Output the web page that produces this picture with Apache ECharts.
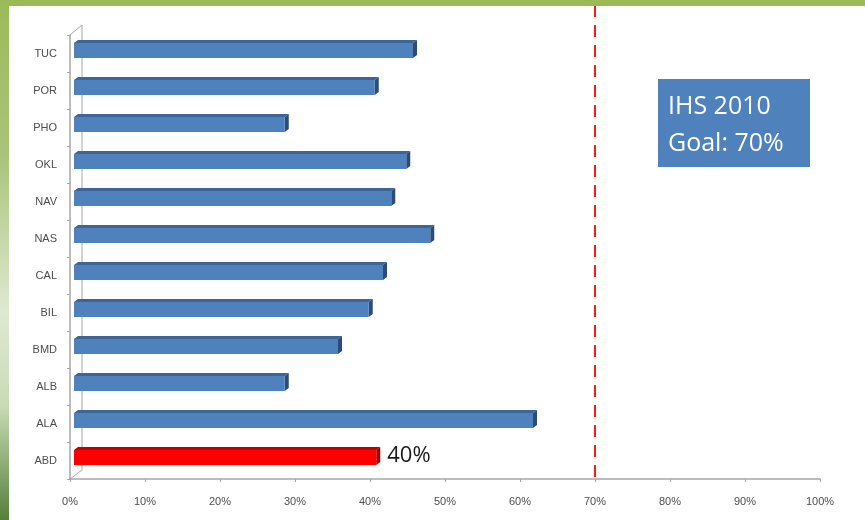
<!DOCTYPE html>
<html>
<head>
<meta charset="utf-8">
<script src="https://cdn.jsdelivr.net/npm/echarts@6/dist/echarts.min.js"></script>
<style>
  html, body { margin: 0; padding: 0; background: #fff; }
  #chart { width: 865px; height: 520px; }
</style>
</head>
<body>
<div id="chart"></div>
<script>
// categories listed bottom -> top (category axis grows upward)
const categories = ['ABD', 'ALA', 'ALB', 'BMD', 'BIL', 'CAL', 'NAS', 'NAV', 'OKL', 'PHO', 'POR', 'TUC']
const rates = [40.3, 61.2, 28.1, 35.2, 39.3, 41.2, 47.5, 42.3, 44.3, 28.1, 40.1, 45.2]
const highlight = 'ABD'
const goal = 70
const goalTitle = 'IHS 2010'

const chart = echarts.init(document.getElementById('chart'))

// fake 3d bar: front face + top + right side
function renderBar (params, api) {
  const v = api.value(0)
  const i = api.value(1)
  const s = api.coord([0, i])
  const e = api.coord([v, i])
  const dx = 4
  const dy = 3
  const h = 15
  const x0 = s[0] + 4
  const x1 = e[0] + 4
  const yt = s[1] - 3 - h / 2
  const yb = yt + h
  const hot = categories[i] === highlight
  const front = hot ? '#ff0000' : '#4f81bd'
  const top = hot ? '#c00000' : '#3d6598'
  const side = hot ? '#9a0000' : '#2c4c78'
  const children = [
    { type: 'polygon', shape: { points: [[x0, yt], [x1, yt], [x1 + dx, yt - dy], [x0 + dx, yt - dy]] }, style: { fill: top } },
    { type: 'polygon', shape: { points: [[x1, yt], [x1 + dx, yt - dy], [x1 + dx, yb - dy], [x1, yb]] }, style: { fill: side } },
    { type: 'rect', shape: { x: x0, y: yt, width: x1 - x0, height: h }, style: { fill: front } }
  ]
  if (hot) {
    children.push({
      type: 'text',
      style: {
        x: x1 + dx + 7,
        y: yt + h / 2 - 2,
        text: Math.round(v) + '%',
        fill: '#1a1a1a',
        font: '22px "Open Sans", sans-serif',
        verticalAlign: 'middle'
      }
    })
  }
  return { type: 'group', children: children }
}

// back wall of the 3d frame
function renderWall (params, api) {
  const r = params.coordSys
  const x = r.x
  const t = r.y
  const b = r.y + r.height
  return {
    type: 'polyline',
    shape: { points: [[x, t], [x + 12, t - 10], [x + 12, b - 9], [x, b]] },
    style: { stroke: '#a6a6a6', lineWidth: 1, fill: null }
  }
}

function renderGoal (params, api) {
  const r = params.coordSys
  const x = api.coord([api.value(0), 0])[0]
  return {
    type: 'line',
    shape: { x1: x, y1: 5, x2: x, y2: r.y + r.height },
    style: { stroke: '#ff1a1a', lineWidth: 2, lineDash: [12, 8] }
  }
}

const option = {
  animation: false,
  backgroundColor: '#ffffff',
  grid: { left: 70, right: 45, top: 35, bottom: 41 },
  xAxis: {
    type: 'value',
    min: 0,
    max: 100,
    interval: 10,
    axisLine: { show: true, lineStyle: { color: '#a6a6a6', width: 1.5 } },
    axisTick: { show: true, length: 3, lineStyle: { color: '#a6a6a6' } },
    splitLine: { show: false },
    axisLabel: {
      formatter: '{value}%',
      color: '#4d4d4d',
      fontFamily: 'Liberation Sans',
      fontSize: 11,
      margin: 17
    }
  },
  yAxis: {
    type: 'category',
    data: categories,
    axisLine: { show: true, lineStyle: { color: '#a6a6a6', width: 1.5 } },
    axisTick: { show: true, length: 3, inside: false, lineStyle: { color: '#a6a6a6' } },
    axisLabel: {
      color: '#4d4d4d',
      fontFamily: 'Liberation Sans',
      fontSize: 11,
      margin: 13
    }
  },
  series: [
    { type: 'custom', name: 'wall', z: 1, renderItem: renderWall, data: [[0, 0]], silent: true },
    {
      type: 'custom',
      name: 'rate',
      z: 3,
      renderItem: renderBar,
      encode: { x: 0, y: 1 },
      data: rates.map((v, i) => [v, i])
    },
    { type: 'custom', name: 'goal', z: 4, renderItem: renderGoal, data: [[goal, 0]], silent: true }
  ],
  graphic: [
    // green frame of the slide
    { type: 'rect', left: 0, top: 0, z: 100, shape: { width: 865, height: 6 }, style: { fill: '#9bbb59' } },
    {
      type: 'rect',
      left: 0,
      top: 0,
      z: 100,
      shape: { width: 9, height: 520 },
      style: {
        fill: new echarts.graphic.LinearGradient(0, 0, 0, 1, [
          { offset: 0, color: '#9bbb59' },
          { offset: 0.3, color: '#a9c47a' },
          { offset: 0.6, color: '#dfe9d2' },
          { offset: 0.78, color: '#c9dbb6' },
          { offset: 1, color: '#557f3c' }
        ])
      }
    },
    {
      type: 'group',
      right: 55,
      top: 79,
      z: 50,
      children: [
        { type: 'rect', shape: { x: 0, y: 0, width: 152, height: 88 }, style: { fill: '#4f81bd' } },
        {
          type: 'text',
          style: {
            x: 10,
            y: 9,
            text: goalTitle + '\nGoal: ' + goal + '%',
            fill: '#ffffff',
            font: '25px "Open Sans", sans-serif',
            lineHeight: 37
          }
        }
      ]
    }
  ]
}

chart.setOption(option)
</script>
</body>
</html>
